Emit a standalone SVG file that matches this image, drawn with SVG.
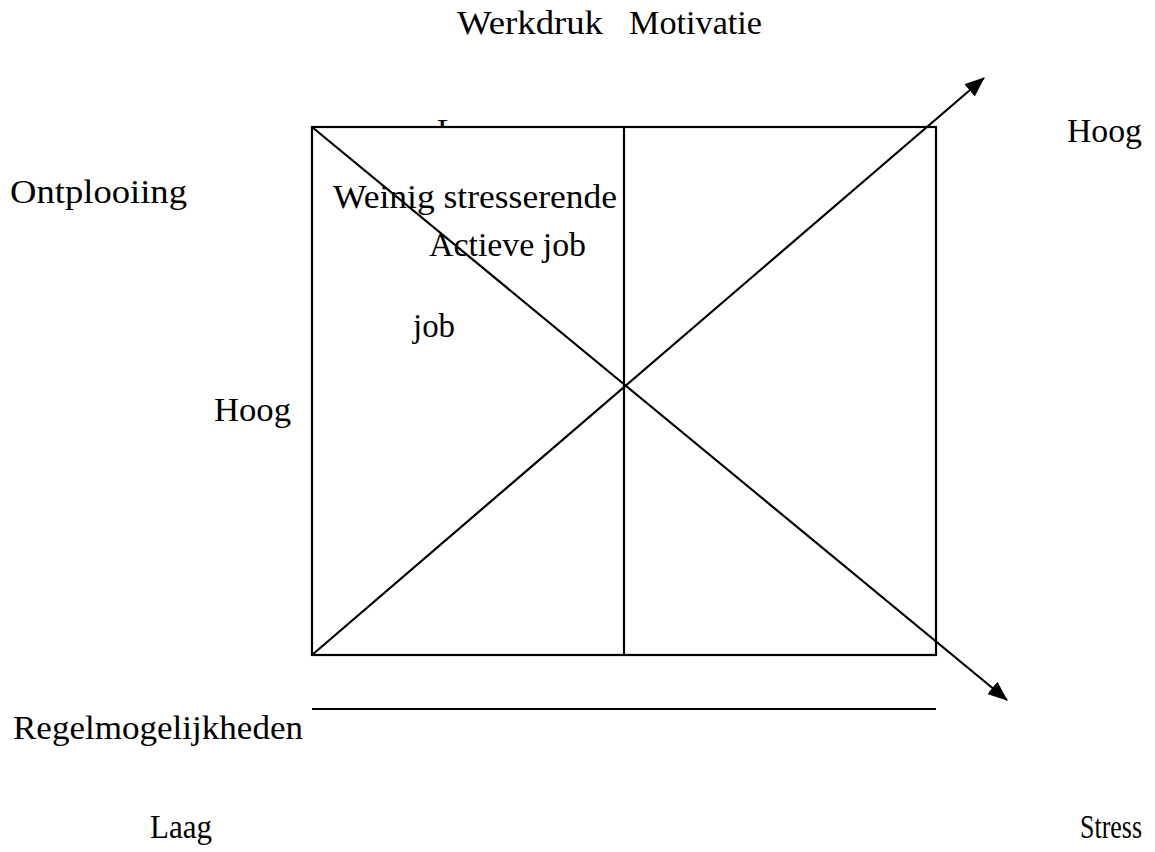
<svg xmlns="http://www.w3.org/2000/svg" width="1155" height="852" viewBox="0 0 1155 852">
<style>
text{font-family:"Liberation Serif","DejaVu Serif",serif;font-size:33px;fill:#000}
.ln{stroke:#000;stroke-width:2.2;fill:none}
</style>
<defs>
<marker id="ah" markerWidth="20" markerHeight="16" refX="19" refY="8" orient="auto" markerUnits="userSpaceOnUse" viewBox="0 0 20 16">
<path d="M0,0 L20,8 L0,16 z" fill="#000"/>
</marker>
<clipPath id="cl"><rect x="400" y="100" width="80" height="26"/></clipPath>
</defs>
<rect width="1155" height="852" fill="#fff"/>
<g id="labels">
<text x="457" y="34" textLength="146" lengthAdjust="spacingAndGlyphs">Werkdruk</text>
<text x="629" y="34" textLength="133" lengthAdjust="spacingAndGlyphs">Motivatie</text>
<text x="1067" y="142" textLength="75" lengthAdjust="spacingAndGlyphs">Hoog</text>
<text x="10" y="203" textLength="177" lengthAdjust="spacingAndGlyphs">Ontplooiing</text>
<text x="214" y="421" textLength="77" lengthAdjust="spacingAndGlyphs">Hoog</text>
<text x="13" y="739" textLength="290" lengthAdjust="spacingAndGlyphs">Regelmogelijkheden</text>
<text x="150" y="838" textLength="62" lengthAdjust="spacingAndGlyphs">Laag</text>
<text x="1080" y="838" textLength="62" lengthAdjust="spacingAndGlyphs">Stress</text>
</g>
<g id="box">
<text x="437" y="142" clip-path="url(#cl)">L</text>
<rect class="ln" x="312" y="127" width="624" height="528"/>
<line class="ln" x1="624" y1="127" x2="624" y2="655"/>
<text x="333" y="208" textLength="284" lengthAdjust="spacingAndGlyphs">Weinig stresserende</text>
<text x="429" y="256" textLength="157" lengthAdjust="spacingAndGlyphs">Actieve job</text>
<text x="413" y="337" textLength="42" lengthAdjust="spacingAndGlyphs">job</text>
</g>
<g id="connectors">
<line class="ln" x1="312" y1="655" x2="984" y2="78" marker-end="url(#ah)"/>
<line class="ln" x1="312" y1="127" x2="1007" y2="700" marker-end="url(#ah)"/>
<line class="ln" x1="312" y1="709" x2="936" y2="709"/>
</g>
</svg>
